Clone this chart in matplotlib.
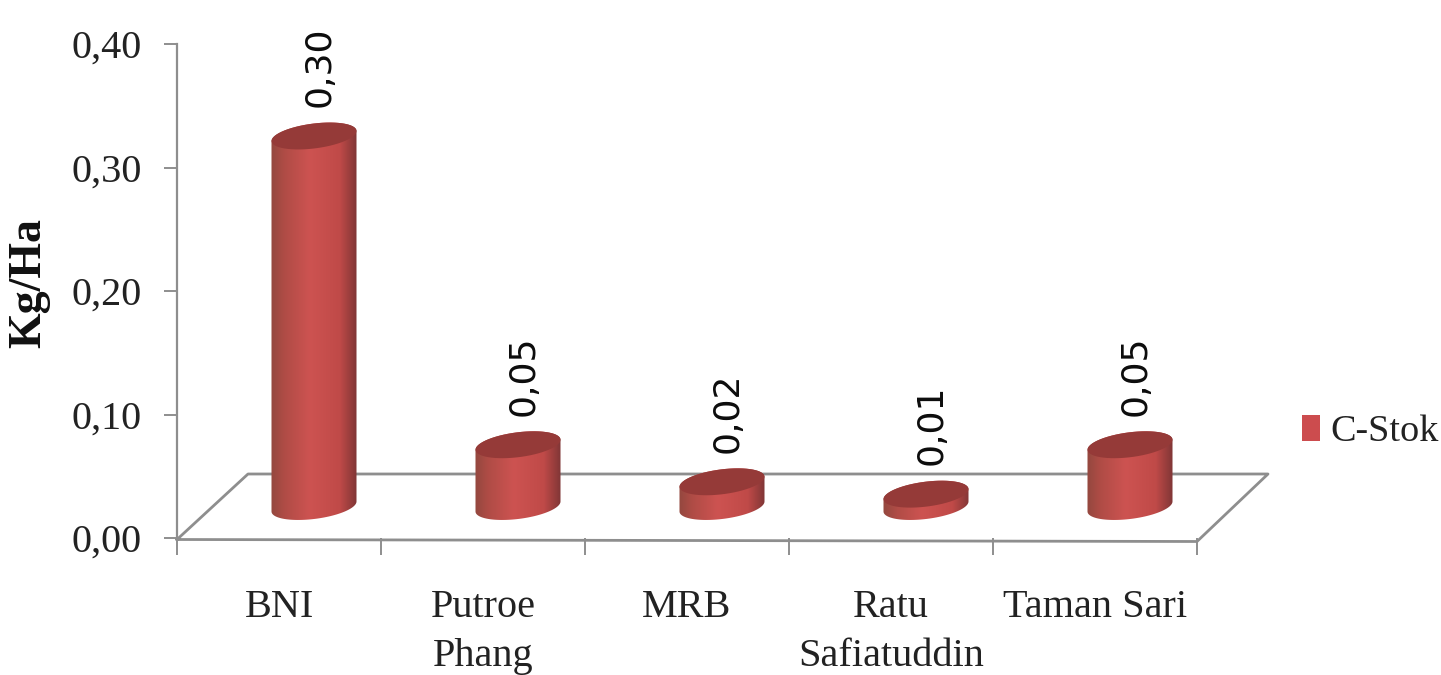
#!/usr/bin/env python3
import matplotlib

matplotlib.use("Agg")
import matplotlib.pyplot as plt
import numpy as np
from matplotlib.colors import LinearSegmentedColormap
from matplotlib.patches import Patch, Polygon

SITES = ["BNI", "Putroe\nPhang", "MRB", "Ratu\nSafiatuddin", "Taman Sari"]
C_STOK = [0.30, 0.05, 0.02, 0.01, 0.05]
VALUE_LABELS = ["0,30", "0,05", "0,02", "0,01", "0,05"]
Y_TICKS = [0.0, 0.1, 0.2, 0.3, 0.4]
Y_TICK_LABELS = ["0,00", "0,10", "0,20", "0,30", "0,40"]

WIDTH, HEIGHT = 1441, 675
AX_LEFT, AX_RIGHT, AX_TOP, AX_BOTTOM = 177, 1197, 44, 538
GRAY = "#8e8e8e"
SERIF = "Liberation Serif"

# data units per pixel, used to lay out the fake-3D cylinders
PX_X = 5 / (AX_RIGHT - AX_LEFT)
PX_Y = 0.4 / (AX_BOTTOM - AX_TOP)

BODY_CMAP = LinearSegmentedColormap.from_list(
    "cyl",
    [
        (0.0, "#94483f"),
        (0.16, "#b04c46"),
        (0.45, "#cd5351"),
        (0.8, "#c04a48"),
        (1.0, "#803636"),
    ],
)


def ellipse(cx, cy, start, stop, n=60):
    # tilted ellipse, right side higher than the left
    a, b, tilt = 42.5 * PX_X, 12.5 * PX_Y, 5.0 * PX_Y
    t = np.linspace(start, stop, n)
    return np.column_stack([cx + a * np.cos(t), cy + b * np.sin(t) + tilt * np.cos(t)])


def draw_cylinder(ax, cx, base, value):
    top = base + value
    lower = ellipse(cx, base, np.pi, 2 * np.pi)
    upper = ellipse(cx, top, 0, np.pi)
    body = Polygon(np.vstack([lower, upper]), closed=True, transform=ax.transData)
    im = ax.imshow(
        np.linspace(0, 1, 256)[None, :],
        cmap=BODY_CMAP,
        aspect="auto",
        extent=(cx - 43 * PX_X, cx + 43 * PX_X, base - 20 * PX_Y, top + 20 * PX_Y),
        zorder=3,
    )
    im.set_clip_path(body)
    cap = ellipse(cx, top, 0, 2 * np.pi)
    ax.add_patch(Polygon(cap, closed=True, facecolor="#953a38", edgecolor="none", zorder=4))


fig = plt.figure(figsize=(WIDTH / 100, HEIGHT / 100), dpi=100)
ax = fig.add_axes(
    [
        AX_LEFT / WIDTH,
        1 - AX_BOTTOM / HEIGHT,
        (AX_RIGHT - AX_LEFT) / WIDTH,
        (AX_BOTTOM - AX_TOP) / HEIGHT,
    ]
)

# floor of the chart box
depth_x, depth_y = 71 * PX_X, 64 * PX_Y
floor_x = [0, 5, 5 + depth_x, depth_x, 0]
floor_y = [-1.5 * PX_Y, -3.5 * PX_Y, depth_y, depth_y, -1.5 * PX_Y]
ax.plot(floor_x, floor_y, color=GRAY, lw=2, clip_on=False, zorder=1)

bar_dx, bar_dy = 35 * PX_X, 31.5 * PX_Y
for i, (value, text) in enumerate(zip(C_STOK, VALUE_LABELS)):
    cx = i + 0.5 + bar_dx
    draw_cylinder(ax, cx, bar_dy, value)
    ax.annotate(
        text,
        (cx, bar_dy + value),
        xytext=(4, 21),
        textcoords="offset points",
        rotation=90,
        ha="center",
        va="bottom",
        fontsize=26,
        color="#0c0c0c",
        family="DejaVu Sans",
        zorder=5,
    )

ax.set_xlim(0, 5)
ax.set_ylim(0, 0.4)

for side in ("top", "right", "bottom"):
    ax.spines[side].set_visible(False)
ax.spines["left"].set_color(GRAY)
ax.spines["left"].set_linewidth(1.6)

ax.set_yticks(Y_TICKS, labels=Y_TICK_LABELS, family=SERIF, fontsize=29, color="#222222")
ax.tick_params(axis="y", length=9.5, width=1.4, color=GRAY, pad=16)

ax.set_xticks(range(6), labels=[""] * 6)
ax.tick_params(axis="x", which="major", length=12, width=1.4, color=GRAY)
ax.set_xticks([i + 0.5 for i in range(5)], labels=SITES, minor=True)
ax.tick_params(axis="x", which="minor", length=0, pad=37)
for label in ax.get_xticklabels(minor=True):
    label.set_family(SERIF)
    label.set_fontsize(29)
    label.set_color("#222222")
    label.set_linespacing(1.42)

fig.text(
    29 / WIDTH,
    1 - 283 / HEIGHT,
    "Kg/Ha",
    rotation=90,
    ha="center",
    va="center",
    family=SERIF,
    weight="bold",
    fontsize=33,
    color="#111111",
)

ax.legend(
    handles=[Patch(facecolor="#cc4c4e", label="C-Stok")],
    loc="center left",
    bbox_to_anchor=(1302 / WIDTH, 1 - 432 / HEIGHT),
    bbox_transform=fig.transFigure,
    frameon=False,
    prop={"family": SERIF, "size": 27.5},
    handlelength=0.47,
    handleheight=0.65,
    handletextpad=0.26,
    borderpad=0,
    borderaxespad=0,
    labelcolor="#222222",
)

fig.savefig("out.png", dpi=100)
plt.close(fig)
